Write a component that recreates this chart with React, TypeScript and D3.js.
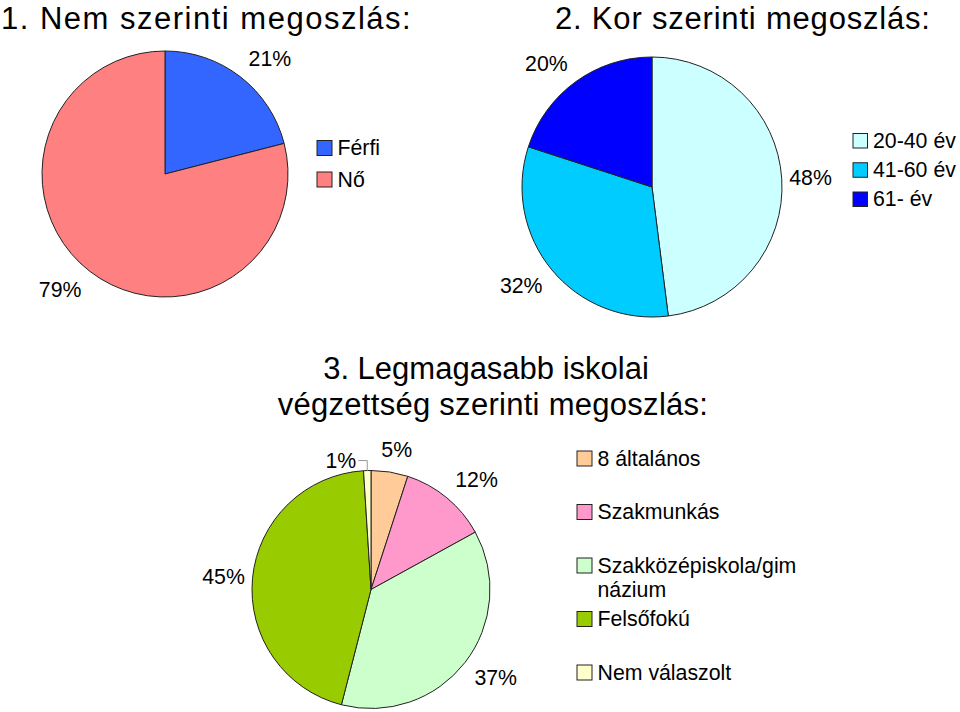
import React from 'react';
import * as d3 from 'd3';

// ---------------- DATA ----------------
const genderCategories = ['Férfi', 'Nő'];
const genderValues = [21, 79];

const ageCategories = ['20-40 év', '41-60 év', '61- év'];
const ageValues = [48, 32, 20];

const eduCategories = ['8 általános', 'Szakmunkás', 'Szakközépiskola/gimnázium', 'Felsőfokú', 'Nem válaszolt'];
const eduLegendLines = [['8 általános'], ['Szakmunkás'], ['Szakközépiskola/gim', 'názium'], ['Felsőfokú'], ['Nem válaszolt']];
const eduValues = [5, 12, 37, 45, 1];

const titles = ['1. Nem szerinti megoszlás:', '2. Kor szerinti megoszlás:'];
const title3Lines = ['3. Legmagasabb iskolai', 'végzettség szerinti megoszlás:'];

// ---------------- STYLE ----------------
const genderColors = ['#3366FF', '#FF8080'];
const ageColors = ['#CCFFFF', '#00CCFF', '#0000FF'];
const eduColors = ['#FFCC99', '#FF99CC', '#CCFFCC', '#99CC00', '#FFFFCC'];

const FONT = '"Liberation Sans", Arial, Helvetica, sans-serif';
const LABEL_SIZE = 21.3;
const TITLE_SIZE = 31;
const CAP = 0.716;
const W = 960;
const H = 712;

let _ctx: CanvasRenderingContext2D | null = null;
function measure(text: string, size: number): number {
  if (!_ctx) {
    const c = document.createElement('canvas');
    _ctx = c.getContext('2d');
  }
  if (!_ctx) return text.length * size * 0.55;
  _ctx.font = `${size}px ${FONT}`;
  return _ctx.measureText(text).width;
}

const clamp1 = (t: number) => Math.max(-1, Math.min(1, t));

type PieProps = {
  values: number[];
  colors: string[];
  cx: number;
  cy: number;
  r: number;
  plotBottom?: number;
};

function PieChart({ values, colors, cx, cy, r, plotBottom }: PieProps) {
  const pie = d3.pie<number>().sort(null).value((d) => d);
  const arcs = pie(values);
  const arcGen = d3.arc<d3.PieArcDatum<number>>().innerRadius(0).outerRadius(r);
  const h = 16;

  const labels = arcs.map((a, i) => {
    const text = `${values[i]}%`;
    const theta = (a.startAngle + a.endAngle) / 2;
    const s = Math.sin(theta);
    const c = Math.cos(theta);
    const gap = 7 + 8 * Math.abs(c);
    const R = r + gap;
    const w = measure(text, LABEL_SIZE);
    let x = R * s + (w / 2) * clamp1(2 * s);
    let y = -R * c - (h / 2) * clamp1(2 * c);
    if (plotBottom !== undefined && cy + y + h / 2 > plotBottom) y = plotBottom - cy - h / 2;
    return { text, x, y, w, outer: [r * s, -r * c] as [number, number], leader: null as null | [number, number][] };
  });

  const n = labels.length;
  for (let i = 0; i < n; i++) {
    const j = (i + 1) % n;
    if (i === j) continue;
    const A = labels[i];
    const B = labels[j];
    const pad = 4;
    const overlapX = Math.abs(A.x - B.x) < (A.w + B.w) / 2 + pad;
    const overlapY = Math.abs(A.y - B.y) < h + pad;
    if (overlapX && overlapY) {
      const k = values[i] < values[j] ? i : j;
      const L = labels[k];
      const [ox, oy] = L.outer;
      L.y = oy - 10;
      const right = ox - 11;
      L.x = right - L.w / 2;
      L.leader = [
        [ox, oy],
        [ox, L.y],
        [right + 2, L.y],
      ];
    }
  }

  return (
    <g transform={`translate(${cx},${cy})`}>
      {arcs.map((a, i) => (
        <path key={i} d={arcGen(a) || ''} fill={colors[i]} stroke="#222" strokeWidth={1} strokeLinejoin="round" />
      ))}
      {labels.map((l, i) => (
        <g key={i}>
          {l.leader && (
            <polyline points={l.leader.map((p) => p.join(',')).join(' ')} fill="none" stroke="#999" strokeWidth={1} />
          )}
          <text
            x={l.x}
            y={l.y + (CAP * LABEL_SIZE) / 2}
            textAnchor="middle"
            fontSize={LABEL_SIZE}
            fontFamily={FONT}
            fill="#000"
          >
            {l.text}
          </text>
        </g>
      ))}
    </g>
  );
}

type LegendProps = {
  entries: string[][];
  colors: string[];
  x: number;
  firstTop: number;
  lastTop: number;
  size: number;
  lineHeight?: number;
};

function Legend({ entries, colors, x, firstTop, lastTop, size, lineHeight = 24 }: LegendProps) {
  const keys = entries.map((_, i) => String(i));
  const yScale = d3.scalePoint<string>().domain(keys).range([firstTop, lastTop]);
  return (
    <g>
      {entries.map((lines, i) => {
        const top = yScale(String(i)) as number;
        const baseline = top + size - 0.5;
        return (
          <g key={i}>
            <rect x={x} y={top} width={size} height={size} fill={colors[i]} stroke="#222" strokeWidth={1} />
            {lines.map((ln, k) => (
              <text
                key={k}
                x={x + size + 5.5}
                y={baseline + k * lineHeight}
                fontSize={LABEL_SIZE}
                fontFamily={FONT}
                fill="#000"
              >
                {ln}
              </text>
            ))}
          </g>
        );
      })}
    </g>
  );
}

export default function App() {
  return (
    <svg
      width={W}
      height={H}
      viewBox={`0 0 ${W} ${H}`}
      style={{ position: 'absolute', left: 0, top: 0, display: 'block', background: '#fff' }}
    >
      <rect x={0} y={0} width={W} height={H} fill="#fff" />

      {/* Chart 1 */}
      <text x={1} y={28.5} fontSize={TITLE_SIZE} fontFamily={FONT} letterSpacing={1.5} fill="#000">
        {titles[0]}
      </text>
      <PieChart values={genderValues} colors={genderColors} cx={165} cy={174} r={123} />
      <Legend
        entries={genderCategories.map((c) => [c])}
        colors={genderColors}
        x={317}
        firstTop={140.5}
        lastTop={172}
        size={15}
      />

      {/* Chart 2 */}
      <text x={555} y={28.5} fontSize={TITLE_SIZE} fontFamily={FONT} letterSpacing={0.8} fill="#000">
        {titles[1]}
      </text>
      <PieChart values={ageValues} colors={ageColors} cx={652} cy={187} r={130} />
      <Legend
        entries={ageCategories.map((c) => [c])}
        colors={ageColors}
        x={853}
        firstTop={133.5}
        lastTop={192}
        size={14.5}
      />

      {/* Chart 3 */}
      <text fontSize={TITLE_SIZE} fontFamily={FONT} fill="#000" textAnchor="middle">
        <tspan x={486} y={379}>{title3Lines[0]}</tspan>
        <tspan x={493} y={415} letterSpacing={0.28}>{title3Lines[1]}</tspan>
      </text>
      <PieChart values={eduValues} colors={eduColors} cx={371} cy={589.5} r={119} plotBottom={688} />
      <Legend
        entries={eduLegendLines}
        colors={eduColors}
        x={577}
        firstTop={451}
        lastTop={665}
        size={15}
      />
    </svg>
  );
}
